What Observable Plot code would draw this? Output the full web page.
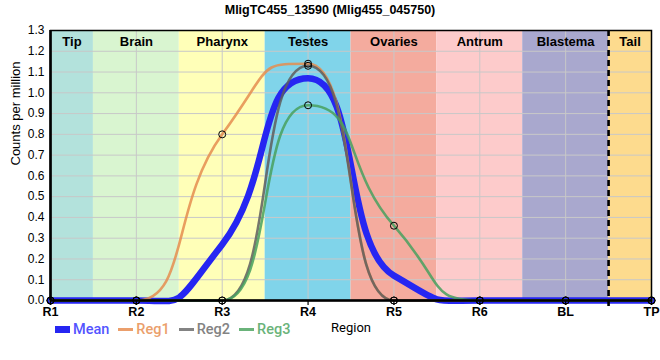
<!DOCTYPE html>
<html>
<head>
<meta charset="utf-8">
<script src="https://cdn.jsdelivr.net/npm/d3@7"></script>
<script src="https://cdn.jsdelivr.net/npm/@observablehq/plot@0.6"></script>
<style>
  html, body { margin: 0; padding: 0; background: #fff; }
  #wrap { position: relative; width: 660px; height: 360px; font-family: "Liberation Sans", Arial, sans-serif; }
  #title { position: absolute; left: 0; top: 3px; width: 660px; text-align: center; font-weight: bold; font-size: 12.5px; color: #000; }
  #chart { position: absolute; left: 0; top: 22px; }
  #legend { position: absolute; left: 55px; top: 321px; display: flex; align-items: center; font-family: Roboto, "Noto Sans", sans-serif; font-size: 14.5px; font-weight: 500; }
  .item { display: flex; align-items: center; margin-right: 9px; }
  .sw { display: inline-block; margin-right: 3px; }
</style>
</head>
<body>
<div id="wrap">
  <div id="title">MligTC455_13590 (Mlig455_045750)</div>
  <div id="chart"></div>
  <div id="legend"></div>
</div>
<script>
// ---- data ----
const regions = ["R1", "R2", "R3", "R4", "R5", "R6", "BL", "TP"];
const meanVals = [0, 0, 0.27, 1.07, 0.12, 0, 0, 0];
const reg1Vals = [0, 0, 0.80, 1.14, 0, 0, 0, 0];
const reg2Vals = [0, 0, 0, 1.13, 0, 0, 0, 0];
const reg3Vals = [0, 0, 0, 0.94, 0.36, 0, 0, 0];
const bandNames = ["Tip", "Brain", "Pharynx", "Testes", "Ovaries", "Antrum", "Blastema", "Tail"];
const bandColors = ["#b3e2dc", "#d9f5d0", "#ffffb8", "#80d4ea", "#f4ab9e", "#fdcbcb", "#a9a8ce", "#fddb8e"];
const yTicks = [0, 0.1, 0.2, 0.3, 0.4, 0.5, 0.6, 0.7, 0.8, 0.9, 1.0, 1.1, 1.2, 1.3];

const seriesNames = ["Mean", "Reg1", "Reg2", "Reg3"];
const lineColors = ["#2626f2", "#e58d4f", "#5e5e5e", "#48a05e"];
const legendText = ["#5454ff", "#eb9f6c", "#838383", "#6ab37a"];

// ---- smooth monotone curve with longer handles (sharper sigmoid between points) ----
function sharpMonotone(a) {
  return function(context) {
    let xs = [], ys = [];
    const sign = v => v < 0 ? -1 : 1;
    return {
      areaStart() {}, areaEnd() {},
      lineStart() { xs = []; ys = []; },
      point(x, y) { xs.push(+x); ys.push(+y); },
      lineEnd() {
        const n = xs.length;
        if (!n) return;
        context.moveTo(xs[0], ys[0]);
        if (n === 1) return;
        if (n === 2) { context.lineTo(xs[1], ys[1]); return; }
        const m = new Array(n).fill(0);
        for (let i = 1; i < n - 1; i++) {
          const h0 = xs[i] - xs[i - 1], h1 = xs[i + 1] - xs[i];
          const s0 = (ys[i] - ys[i - 1]) / h0, s1 = (ys[i + 1] - ys[i]) / h1;
          const p = (s0 * h1 + s1 * h0) / (h0 + h1);
          m[i] = (sign(s0) + sign(s1)) * Math.min(Math.abs(s0), Math.abs(s1), 0.5 * Math.abs(p)) || 0;
        }
        const hs = xs[1] - xs[0];
        m[0] = (3 * (ys[1] - ys[0]) / hs - m[1]) / 2;
        const he = xs[n - 1] - xs[n - 2];
        m[n - 1] = (3 * (ys[n - 1] - ys[n - 2]) / he - m[n - 2]) / 2;
        for (let i = 0; i < n - 1; i++) {
          const h = xs[i + 1] - xs[i];
          context.bezierCurveTo(
            xs[i] + a * h, ys[i] + a * h * m[i],
            xs[i + 1] - a * h, ys[i + 1] - a * h * m[i + 1],
            xs[i + 1], ys[i + 1]);
        }
      }
    };
  };
}
const curve = sharpMonotone(0.6);

// ---- build tables ----
const n = regions.length;
const idx = d3.range(n);
const bands = bandNames.map((name, i) => ({
  name, color: bandColors[i],
  x1: Math.max(0, i - 0.5), x2: Math.min(n - 1, i + 0.5)
}));
const mk = vals => idx.map(i => ({x: i, y: vals[i]}));
const mean = mk(meanVals), r1 = mk(reg1Vals), r2 = mk(reg2Vals), r3 = mk(reg3Vals);
const regionLabel = i => regions[i];

const chart = Plot.plot({
  width: 660,
  height: 338,
  marginLeft: 50,
  marginRight: 9,
  marginTop: 8,
  marginBottom: 60,
  style: {fontFamily: '"Liberation Sans", Arial, sans-serif', fontSize: "12px", color: "#000", background: "transparent"},
  x: {domain: [0, n - 1], ticks: idx, tickFormat: regionLabel, label: null},
  y: {domain: [0, 1.3], ticks: yTicks, tickFormat: d3.format(".1f"), label: null},
  marks: [
    Plot.rect(bands, {x1: "x1", x2: "x2", y1: 0, y2: 1.3, fill: d => d.color}),
    Plot.gridX(idx, {stroke: "#c8c8c8", strokeOpacity: 1, strokeWidth: 1}),
    Plot.gridY(yTicks, {stroke: "#c8c8c8", strokeOpacity: 1, strokeWidth: 1}),
    Plot.text(bands, {x: d => (d.x1 + d.x2) / 2, y: 1.3, text: "name", dy: 11, fontWeight: "bold", fontSize: 13, fill: "#000"}),
    Plot.line(mean, {x: "x", y: "y", curve, stroke: lineColors[0], strokeWidth: 6.5}),
    Plot.line(r1, {x: "x", y: "y", curve, stroke: lineColors[1], strokeWidth: 2.6, strokeOpacity: 0.85}),
    Plot.line(r2, {x: "x", y: "y", curve, stroke: lineColors[2], strokeWidth: 2.6, strokeOpacity: 0.85}),
    Plot.line(r3, {x: "x", y: "y", curve, stroke: lineColors[3], strokeWidth: 2.6, strokeOpacity: 0.85}),
    Plot.ruleX([6.5], {stroke: "#000", strokeWidth: 2.6, strokeDasharray: "6,4", insetBottom: -6}),
    Plot.frame({stroke: "#000", strokeWidth: 1.5}),
    Plot.ruleX([0], {stroke: "#000", strokeWidth: 2.6}),
    Plot.ruleY([0], {stroke: "#000", strokeWidth: 2.6}),
    Plot.dot([...r1, ...r2, ...r3], {x: "x", y: "y", r: 3.5, stroke: "#000", fill: "none", strokeWidth: 1}),
    Plot.axisX(idx, {tickSize: 5, tickPadding: 2, tickFormat: regionLabel, fontWeight: "bold", fontSize: 12.5, stroke: "#000", strokeWidth: 1.2, label: null}),
    Plot.axisY(yTicks, {tickSize: 0, tickPadding: 6, tickFormat: d3.format(".1f"), fontSize: 12, label: null}),
    Plot.text(["Counts per million"], {frameAnchor: "left", dx: -35, rotate: -90, fontSize: 13, fill: "#000"}),
    Plot.text(["Region"], {frameAnchor: "bottom", dy: 31, fontSize: 13, fill: "#000", fontFamily: "Roboto, sans-serif"})
  ]
});
document.getElementById("chart").appendChild(chart);

// ---- legend ----
const lg = document.getElementById("legend");
seriesNames.forEach((s, i) => {
  const item = document.createElement("div");
  item.className = "item";
  const sw = document.createElement("span");
  sw.className = "sw";
  sw.style.width = "15px";
  sw.style.height = i === 0 ? "7px" : "2.5px";
  sw.style.background = i === 0 ? lineColors[0] : legendText[i];
  const t = document.createElement("span");
  t.textContent = s;
  t.style.color = legendText[i];
  item.appendChild(sw);
  item.appendChild(t);
  lg.appendChild(item);
});
</script>
</body>
</html>
